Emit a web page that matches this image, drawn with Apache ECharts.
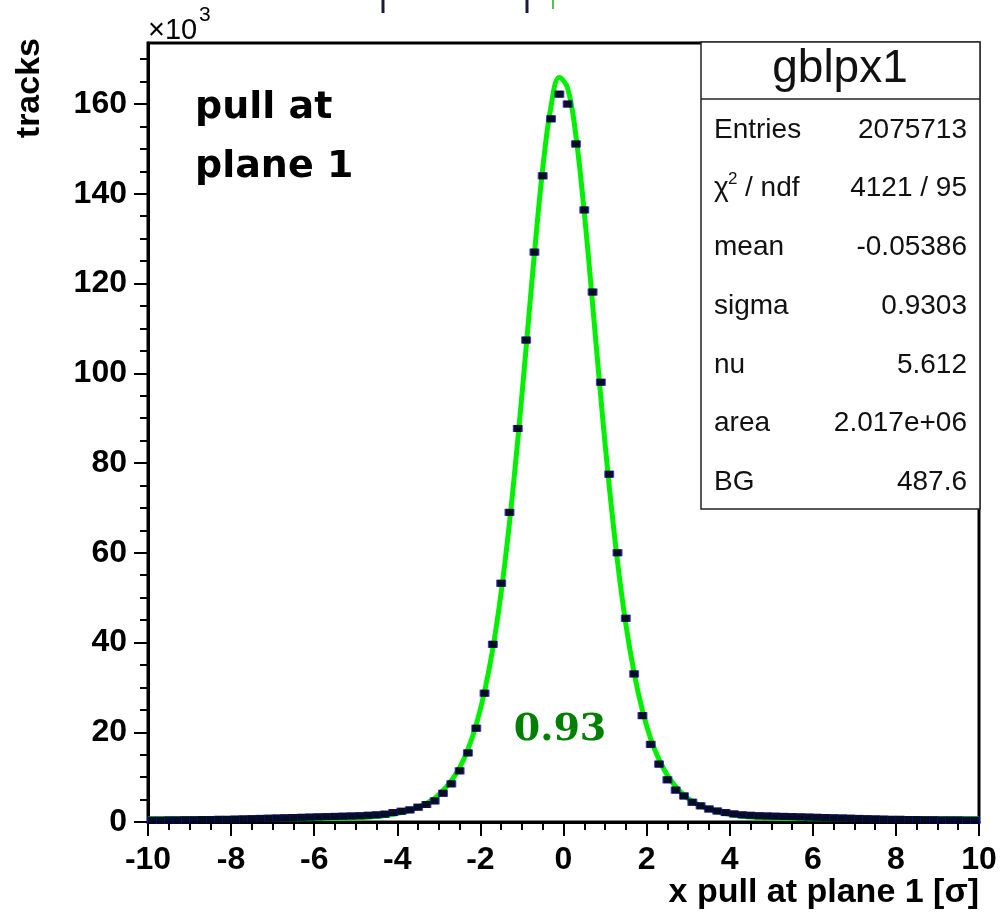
<!DOCTYPE html>
<html>
<head>
<meta charset="utf-8">
<script src="https://cdn.jsdelivr.net/npm/echarts@6/dist/echarts.min.js"></script>
<style>
    html, body { margin: 0; padding: 0; background: #fff; }
    #chart { width: 1006px; height: 912px; }
</style>
</head>
<body>
<div id="chart"></div>
<script>
// histogram binning: 100 bins of 0.2 from -10 to 10
const binLow = -10;
const binWidth = 0.2;

// tracks per bin (x10^3), bins -9.9 ... 9.9
const trackCounts = [
    0.4, 0.4, 0.45, 0.45, 0.5, 0.5, 0.55, 0.55, 0.6, 0.6,
    0.65, 0.7, 0.75, 0.8, 0.85, 0.9, 0.95, 1.0, 1.05, 1.1,
    1.15, 1.2, 1.25, 1.3, 1.35, 1.4, 1.5, 1.6, 1.75, 2.1,
    2.4, 2.7, 3.3, 3.9, 4.7, 6.4, 8.5, 11.4, 15.4, 20.9,
    28.7, 39.6, 53.2, 69.0, 87.7, 107.4, 127.0, 144.0, 156.7, 162.2,
    160.0, 151.1, 136.4, 118.1, 98.0, 77.5, 60.0, 45.4, 33.0, 23.7,
    17.3, 12.9, 9.4, 7.1, 5.8, 4.4, 3.6, 2.9, 2.45, 2.1,
    1.8, 1.6, 1.5, 1.4, 1.35, 1.3, 1.25, 1.2, 1.15, 1.1,
    1.05, 1.0, 0.95, 0.9, 0.85, 0.8, 0.75, 0.7, 0.65, 0.6,
    0.6, 0.55, 0.55, 0.5, 0.5, 0.45, 0.45, 0.45, 0.4, 0.4
];

// fitted curve read at the same bin centres
const fitValues = [
    0.75, 0.75, 0.75, 0.75, 0.75, 0.75, 0.75, 0.75, 0.75, 0.75,
    0.75, 0.74, 0.74, 0.73, 0.73, 0.72, 0.72, 0.73, 0.74, 0.75,
    0.77, 0.79, 0.82, 0.85, 0.9, 0.96, 1.05, 1.2, 1.42, 1.72,
    2.1, 2.6, 3.3, 4.15, 5.3, 7.0, 9.2, 12.1, 16.2, 21.7,
    29.1, 38.7, 51.2, 66.7, 85.2, 105.7, 126.7, 145.6, 159.5, 165.9,
    163.5, 152.8, 135.8, 115.4, 94.4, 74.9, 58.0, 44.1, 33.2, 24.8,
    18.5, 13.9, 10.4, 7.9, 6.0, 4.6, 3.6, 2.9, 2.3, 1.9,
    1.55, 1.3, 1.12, 1.0, 0.92, 0.86, 0.82, 0.79, 0.77, 0.75,
    0.74, 0.73, 0.72, 0.72, 0.72, 0.72, 0.73, 0.73, 0.74, 0.74,
    0.75, 0.75, 0.75, 0.75, 0.75, 0.75, 0.75, 0.75, 0.75, 0.75
];

const yMajorTicks = [0, 20, 40, 60, 80, 100, 120, 140, 160];
const yMinorTicks = [5, 10, 15, 25, 30, 35, 45, 50, 55, 65, 70, 75, 85, 90, 95,
    105, 110, 115, 125, 130, 135, 145, 150, 155, 165, 170];

// stats box
const statNames = ['Entries', 'χ', 'mean', 'sigma', 'nu', 'area', 'BG'];
const statValues = ['2075713', '4121 / 95', '-0.05386', '0.9303', '5.612', '2.017e+06', '487.6'];

const histPoints = trackCounts.map((v, i) => [binLow + binWidth * (i + 0.5), v]);
const fitPoints = [[binLow, fitValues[0]]]
    .concat(fitValues.map((v, i) => [binLow + binWidth * (i + 0.5), v]))
    .concat([[-binLow, fitValues[fitValues.length - 1]]]);

const chart = echarts.init(document.getElementById('chart'));

const axisFont = { fontFamily: 'Liberation Sans', fontWeight: 'bold', fontSize: 32, color: '#000' };
const black = { color: '#000', width: 2 };

// stats box pieces
const statsItems = [
    { type: 'rect', shape: { x: 701, y: 42, width: 279, height: 467 },
      style: { fill: '#fff', stroke: '#222', lineWidth: 1.5 }, z: 100 },
    { type: 'line', shape: { x1: 701, y1: 99, x2: 980, y2: 99 },
      style: { stroke: '#222', lineWidth: 1.5 }, z: 101 },
    { type: 'text', x: 840, y: 69, z: 101,
      style: { text: 'gblpx1', fontFamily: 'Liberation Sans', fontSize: 46, fill: '#111',
               align: 'center', verticalAlign: 'middle' } }
];
statNames.forEach((name, i) => {
    const y = 130 + i * 58.7;
    statsItems.push({ type: 'text', x: 714, y: y, z: 101,
        style: { text: name, fontFamily: 'Liberation Sans', fontSize: 28, fill: '#111',
                 align: 'left', verticalAlign: 'middle' } });
    statsItems.push({ type: 'text', x: 967, y: y, z: 101,
        style: { text: statValues[i], fontFamily: 'Liberation Sans', fontSize: 28, fill: '#111',
                 align: 'right', verticalAlign: 'middle' } });
});
// chi2 / ndf: superscript and rest of label
statsItems.push({ type: 'text', x: 728, y: 179, z: 101,
    style: { text: '2', fontFamily: 'Liberation Sans', fontSize: 17, fill: '#111',
             align: 'left', verticalAlign: 'middle' } });
statsItems.push({ type: 'text', x: 745, y: 188.7, z: 101,
    style: { text: '/ ndf', fontFamily: 'Liberation Sans', fontSize: 28, fill: '#111',
             align: 'left', verticalAlign: 'middle' } });

const option = {
    animation: false,
    backgroundColor: '#fff',
    textStyle: { fontFamily: 'Liberation Sans' },
    grid: [
        { left: 148, right: 27, top: 43, bottom: 90, show: true, borderColor: '#000', borderWidth: 3,
          backgroundColor: 'transparent', containLabel: false, outerBoundsMode: 'none' },
        { left: 148, right: 27, top: 43, bottom: 90, show: false, containLabel: false, outerBoundsMode: 'none' }
    ],
    xAxis: [
        {
            gridIndex: 0, type: 'value', min: -10, max: 10, interval: 2,
            axisLine: { onZero: false, lineStyle: { color: '#000', width: 3 } },
            axisTick: { inside: false, length: 14, lineStyle: black },
            minorTick: { show: true, splitNumber: 4, length: 8, lineStyle: black },
            axisLabel: Object.assign({ margin: 22 }, axisFont),
            splitLine: { show: false }
        },
        { gridIndex: 1, type: 'value', min: -10, max: 10, show: false }
    ],
    yAxis: [
        {
            gridIndex: 0, type: 'value', min: 0, max: 173.6,
            axisLine: { show: true, onZero: false, lineStyle: { color: '#000', width: 3 } },
            axisTick: { show: true, inside: false, length: 14, customValues: yMajorTicks, lineStyle: black },
            axisLabel: Object.assign({ margin: 21, customValues: yMajorTicks }, axisFont),
            splitLine: { show: false }
        },
        {
            gridIndex: 1, type: 'value', min: 0, max: 173.6,
            axisLine: { show: false, onZero: false },
            axisTick: { show: true, inside: false, length: 8, customValues: yMinorTicks, lineStyle: black },
            axisLabel: { show: false },
            splitLine: { show: false }
        }
    ],
    series: [
        {
            name: 'fit', type: 'line', xAxisIndex: 0, yAxisIndex: 0,
            data: fitPoints, smooth: 0.4, showSymbol: false, silent: true,
            lineStyle: { color: '#00f000', width: 5 }, z: 2
        },
        {
            name: 'errors', type: 'scatter', xAxisIndex: 0, yAxisIndex: 0,
            data: histPoints, symbol: 'rect', symbolSize: [10, 7], silent: true,
            itemStyle: { color: '#1414d2' }, z: 3
        },
        {
            name: 'tracks', type: 'scatter', xAxisIndex: 0, yAxisIndex: 0,
            data: histPoints, symbol: 'rect', symbolSize: [8, 7], silent: true,
            itemStyle: { color: '#000' }, z: 4
        }
    ],
    graphic: [
        // axis titles
        { type: 'text', x: 30, y: 38, rotation: Math.PI / 2,
          style: { text: 'tracks', fontFamily: 'Liberation Sans', fontWeight: 'bold', fontSize: 34,
                   fill: '#000', align: 'right', verticalAlign: 'middle' } },
        { type: 'text', x: 979, y: 893,
          style: { text: 'x pull at plane 1 [σ]', fontFamily: 'Liberation Sans', fontWeight: 'bold',
                   fontSize: 34, fill: '#000', align: 'right', verticalAlign: 'middle' } },
        // exponent of y axis
        { type: 'text', x: 148, y: 31,
          style: { text: '×10', fontFamily: 'Liberation Sans', fontSize: 29, fill: '#000',
                   align: 'left', verticalAlign: 'middle' } },
        { type: 'text', x: 199, y: 15,
          style: { text: '3', fontFamily: 'Liberation Sans', fontSize: 21, fill: '#000',
                   align: 'left', verticalAlign: 'middle' } },
        // annotations
        { type: 'text', x: 195, y: 108,
          style: { text: 'pull at', fontFamily: 'DejaVu Sans', fontWeight: 'bold', fontSize: 38,
                   fill: '#000', align: 'left', verticalAlign: 'middle' } },
        { type: 'text', x: 195, y: 167,
          style: { text: 'plane 1', fontFamily: 'DejaVu Sans', fontWeight: 'bold', fontSize: 38,
                   fill: '#000', align: 'left', verticalAlign: 'middle' } },
        { type: 'text', x: 560, y: 730, z: 50,
          style: { text: '0.93', fontFamily: 'DejaVu Serif', fontWeight: 'bold', fontSize: 38,
                   fill: '#008000', align: 'center', verticalAlign: 'middle' } },
        // bits of the panel above, cut by the crop
        { type: 'line', shape: { x1: 383, y1: 0, x2: 383, y2: 13 }, style: { stroke: '#1a1a3a', lineWidth: 3 } },
        { type: 'line', shape: { x1: 527, y1: 0, x2: 527, y2: 13 }, style: { stroke: '#1a1a3a', lineWidth: 3 } },
        { type: 'line', shape: { x1: 553, y1: 0, x2: 553, y2: 9 }, style: { stroke: '#22aa22', lineWidth: 1.5 } }
    ].concat(statsItems)
};

chart.setOption(option);
</script>
</body>
</html>
